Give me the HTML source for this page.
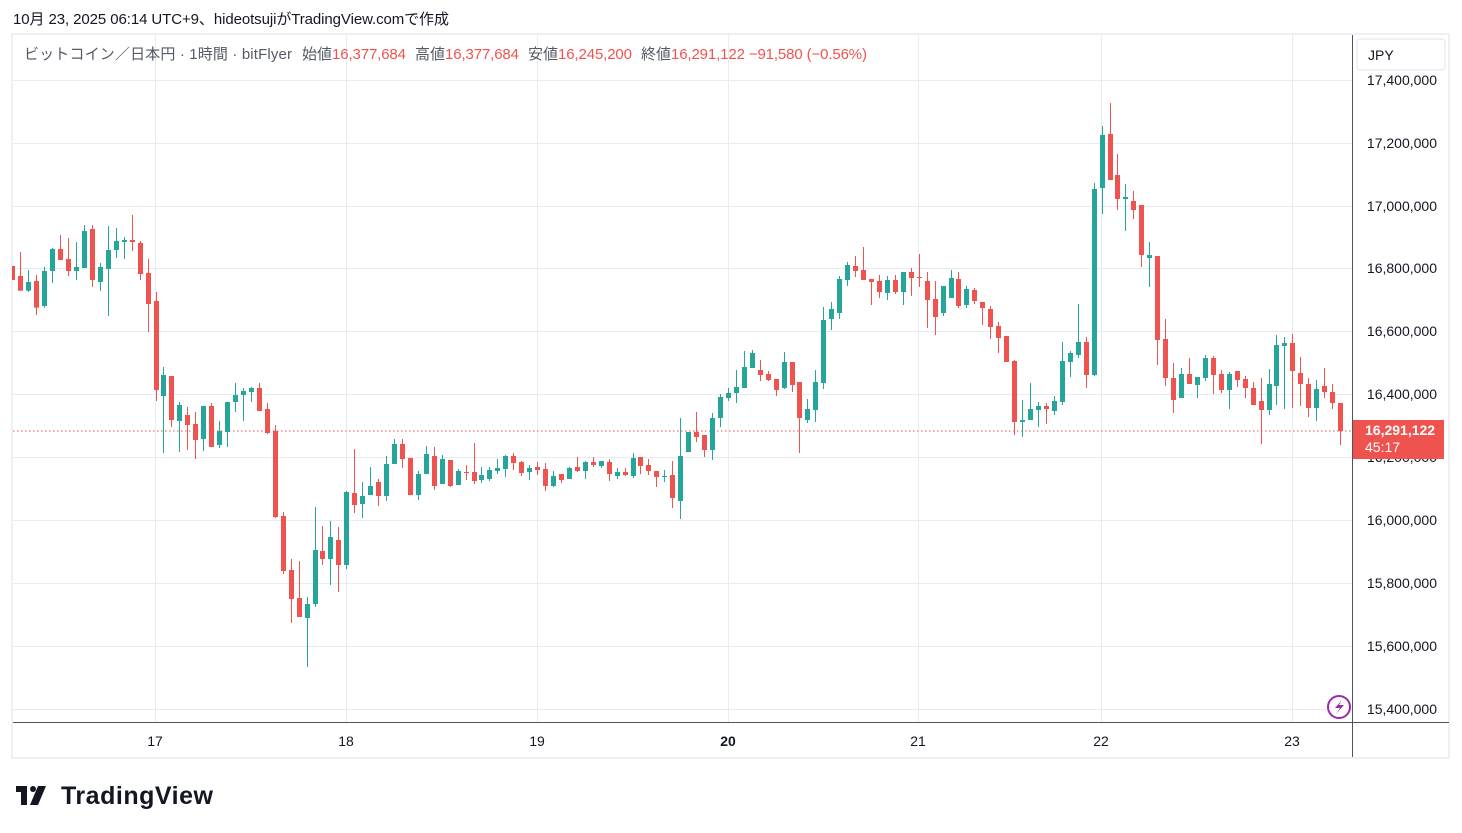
<!DOCTYPE html>
<html><head><meta charset="utf-8"><style>
body{margin:0;width:1462px;height:833px;background:#fff;overflow:hidden;font-family:"Liberation Sans","Noto Sans CJK JP",sans-serif;}
</style></head><body>
<svg id="s" width="1462" height="833" xmlns="http://www.w3.org/2000/svg" style="position:absolute;left:0;top:0">
<text x="13" y="24" font-size="15" fill="#131722" font-family="Liberation Sans, Noto Sans CJK JP, sans-serif" textLength="436">10月 23, 2025 06:14 UTC+9、hideotsujiがTradingView.comで作成</text>
<rect x="12" y="34" width="1437" height="724" fill="none" stroke="#eef0f4" stroke-width="2"/>
<g id="grid" stroke="#e6ecf2" stroke-width="1"></g>
<line x1="13" y1="431" x2="1352" y2="431" stroke="#ef5350" stroke-width="1" stroke-dasharray="1.5,2.5"/>
<g id="c"></g>
<line x1="1352.5" y1="35" x2="1352.5" y2="757" stroke="#50535e" stroke-width="1"/>
<line x1="13" y1="722.5" x2="1449" y2="722.5" stroke="#50535e" stroke-width="1"/>
<g id="py" font-size="14" fill="#131722" text-anchor="end" font-family="Liberation Sans, sans-serif"></g>
<g id="tx" font-size="14" fill="#131722" text-anchor="middle" font-family="Liberation Sans, sans-serif"></g>
<rect x="1357" y="39" width="88" height="31" rx="3" fill="#fff" stroke="#e0e3eb"/>
<text x="1368" y="60" font-size="14" fill="#131722">JPY</text>
<rect x="1353" y="420" width="91" height="39" fill="#ef5350"/>
<text x="1365" y="435" font-size="14" fill="#fff" font-weight="bold" font-family="Liberation Sans, sans-serif">16,291,122</text>
<text x="1365" y="452" font-size="14" fill="#fff" font-family="Liberation Sans, sans-serif">45:17</text>
<circle cx="1339" cy="707" r="11" fill="#fff" stroke="#9c27b0" stroke-width="2"/>
<path d="M1342,700 L1335,708 L1340,708 L1336,714 L1344,705 L1339,705 Z" fill="#9c27b0"/>
<g font-size="15" fill="#555a66" font-family="Liberation Sans, Noto Sans CJK JP, sans-serif">
<text x="24" y="59" textLength="268">ビットコイン／日本円 · 1時間 · bitFlyer</text>
<text x="302" y="59">始値</text><text x="332" y="59" fill="#ef5350" textLength="74">16,377,684</text>
<text x="415" y="59">高値</text><text x="445" y="59" fill="#ef5350" textLength="74">16,377,684</text>
<text x="528" y="59">安値</text><text x="558" y="59" fill="#ef5350" textLength="74">16,245,200</text>
<text x="641" y="59">終値</text><text x="671" y="59" fill="#ef5350" textLength="196">16,291,122 −91,580 (−0.56%)</text>
</g>
<g fill="#131722">
<rect x="16" y="786" width="11" height="6"/><rect x="21" y="786" width="6" height="19"/>
<circle cx="33" cy="789" r="3"/><path d="M38,786 L46,786 L38,805 L30,805 Z"/>
</g>
<text x="61" y="804" font-size="25" font-weight="bold" fill="#131722" font-family="Liberation Sans, sans-serif" textLength="152">TradingView</text>
</svg>
<script>
var ns="http://www.w3.org/2000/svg";
function el(p,t,a,txt){var e=document.createElementNS(ns,t);for(var k in a)e.setAttribute(k,a[k]);if(txt)e.textContent=txt;p.appendChild(e);return e;}
var g=document.getElementById('grid');
var ys=[80,143,206,268,331,394,457,520,583,646,709];
var labs=["17,400,000","17,200,000","17,000,000","16,800,000","16,600,000","16,400,000","16,200,000","16,000,000","15,800,000","15,600,000","15,400,000"];
ys.forEach(function(y){el(g,'line',{x1:13,x2:1352,y1:y+.5,y2:y+.5});});
var dx=[155,346,537,728,918,1101,1292],dl=["17","18","19","20","21","22","23"];
dx.forEach(function(x){el(g,'line',{x1:x+.5,x2:x+.5,y1:35,y2:722});});
var py=document.getElementById('py');
ys.forEach(function(y,i){el(py,'text',{x:1437,y:y+5},labs[i]);});
var tx=document.getElementById('tx');
dx.forEach(function(x,i){var t=el(tx,'text',{x:x,y:746},dl[i]);if(dl[i]=="20")t.setAttribute('font-weight','bold');});
var z1=[["r",198,240,198,240],["r",228,272,156,272],["g",246,272,210,276],["r",243,323,225,345],["g",213,318,201,323],["g",147,213,144,249],["r",147,180,105,180],["r",177,213,114,228],["g",201,213,126,240],["g",93,204,75,204],["r",87,240,75,261],["g",201,246,189,273],["g",150,207,78,348],["g",123,150,84,174],["g",120,126,111,177],["r",120,126,45,153],["r",129,222,123,240],["r",219,312,177,396],["r",303,570,276,603],["g",525,588,501,759],["r",528,660,528,681],["g",615,663,606,756],["r",645,675,621,750],["r",672,720,636,777],["g",618,717,618,753],["r",618,741,609,741],["g",693,735,663,744],["g",606,696,606,741],["g",585,606,549,636],["g",573,585,564,663],["g",564,576,561,606],["r",564,633,549,633],["r",627,699,609,702],["r",693,951,675,954],["r",948,1113,936,1122],["r",1110,1197,1077,1269],["r",1194,1251,1083,1251],["g",1212,1254,1191,1401],["g",1050,1212,921,1221],["r",1053,1077,978,1095],["g",1011,1077,963,1155],["r",1020,1095,981,1176],["g",876,1095,873,1107]];
var z2=[["r",459,495,327,519],["g",468,492,426,534],["g",438,465,381,465],["r",426,468,417,498],["g",372,468,348,483],["g",312,372,297,372],["r",312,357,297,384],["r",354,465,354,465],["g",402,465,393,480],["g",342,402,318,402],["r",348,438,321,450],["g",357,432,345,432],["r",360,438,360,441],["g",393,435,387,435],["r",396,399,375,420],["r",396,423,309,432],["g",405,420,381,429],["g",390,417,381,423],["g",384,393,357,402],["g",348,387,345,411],["r",348,369,339,390],["r",366,399,363,408],["g",384,396,375,420],["r",381,390,366,405],["r",387,438,369,453],["g",408,438,393,441],["r",402,420,402,429],["g",384,417,381,417],["r",381,393,351,396],["g",366,393,363,417],["r",366,375,351,381],["g",363,378,363,384],["r",366,402,357,423],["g",396,408,384,417],["r",396,405,384,408],["g",354,408,339,414],["r",351,378,351,402],["r",375,393,357,405],["r",393,411,393,441],["g",408,411,390,426],["r",405,474,363,504]];
var z3=[["g",678,813,564,867],["g",606,666,606,666],["r",606,621,546,636],["r",615,660,615,681],["g",564,660,549,690],["g",501,564,492,591],["g",489,504,474,513],["g",471,489,420,519],["g",411,474,363,474],["g",369,414,360,414],["r",420,435,390,453],["r",432,450,423,453],["r",447,480,447,498],["g",396,474,366,477],["r",396,465,396,486],["r",456,564,456,669],["g",537,570,507,579],["g",456,540,420,576],["g",270,459,231,477],["g",237,267,216,300],["g",147,249,138,267],["g",105,150,96,168],["r",108,123,78,141],["r",120,150,51,150],["r",147,156,147,225],["r",153,186,135,204],["g",150,189,138,210],["r",150,186,135,192],["g",126,186,126,225],["r",126,144,114,198],["r",141,144,72,171],["r",153,210,126,294],["r",207,261,153,315],["g",168,249,168,258],["g",144,204,120,204],["r",147,228,126,234],["g",177,225,168,234],["r",180,213,174,222],["r",216,234,216,285],["r",237,291,228,327],["r",288,324,276,369]];
var z4=[["r",738,816,738,816],["r",813,996,810,1035],["g",990,996,930,1041],["g",957,990,879,990],["g",948,960,936,1011],["r",948,957,939,1002],["g",933,963,918,975],["g",813,936,756,945],["g",789,816,783,861],["g",756,795,642,804],["r",756,855,741,894],["g",297,855,279,858],["g",135,294,108,372],["r",132,270,39,270],["r",255,327,192,360],["g",321,327,282,423],["r",333,360,303,387],["r",345,495,345,531],["g",495,504,456,591],["r",498,750,498,825],["r",747,864,687,888],["r",864,930,819,969],["g",852,924,834,924],["r",852,882,804,882],["g",861,885,861,924],["g",804,864,795,873],["r",804,855,798,912],["r",852,900,840,909],["g",852,900,846,957],["r",843,870,843,891],["r",867,894,858,924],["r",894,945,876,945],["r",933,960,864,1062],["g",882,960,837,975],["g",765,888,735,945],["g",759,768,741,957],["r",759,843,732,954],["r",849,882,801,948],["r",882,954,864,981],["g",897,954,870,993],["r",888,906,834,924],["r",906,939,882,957],["r",939,1023,939,1065]];
var all=[];
z1.forEach(function(d){all.push([d[0],200+d[1]/3,200+d[2]/3,200+d[3]/3,200+d[4]/3]);});
z2.forEach(function(d){all.push([d[0],340+d[1]/3,340+d[2]/3,340+d[3]/3,340+d[4]/3]);});
z3.forEach(function(d){all.push([d[0],230+d[1]/3,230+d[2]/3,230+d[3]/3,230+d[4]/3]);});
z4.forEach(function(d){all.push([d[0],90+d[1]/3,90+d[2]/3,90+d[3]/3,90+d[4]/3]);});
var c=document.getElementById('c');
all.forEach(function(d,k){
 var x=346.3+(k-42)*7.95;var col=d[0]=="g"?"#26a69a":"#ef5350";
 var x0=Math.round(x);
 el(c,'rect',{x:x0,y:d[3],width:1,height:Math.max(1,d[4]-d[3]),fill:col});
 var bw=5,bx=x0-2;if(bx<13){bw=bw-(13-bx);bx=13;}
 if(bw>0)el(c,'rect',{x:bx,y:d[1],width:bw,height:Math.max(1,d[2]-d[1]),fill:col});
});
</script>
</body></html>
